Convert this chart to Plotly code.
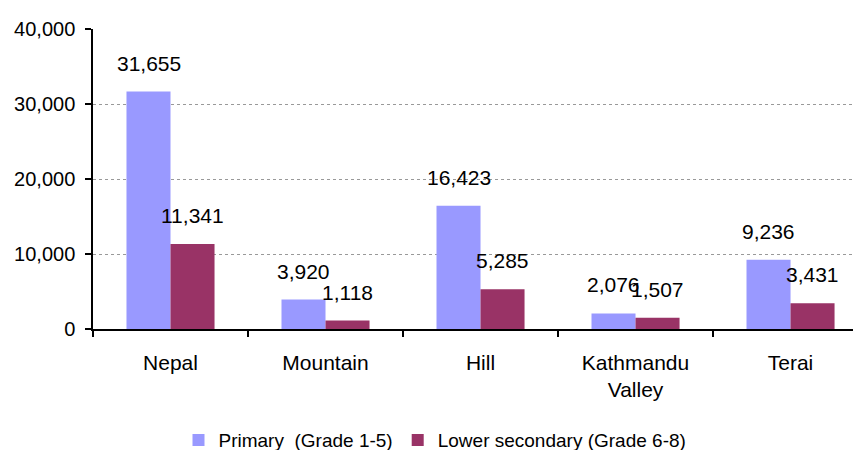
import plotly.graph_objects as go

categories = ["Nepal", "Mountain", "Hill", "Kathmandu Valley", "Terai"]
tick_labels = ["Nepal", "Mountain", "Hill", "Kathmandu<br>Valley", "Terai"]
primary = [31655, 3920, 16423, 2076, 9236]
lower_secondary = [11341, 1118, 5285, 1507, 3431]
series_names = ["Primary  (Grade 1-5)", "Lower secondary (Grade 6-8)"]
y_ticks = [0, 10000, 20000, 30000, 40000]

FONT = "Liberation Sans, Arial, sans-serif"

fig = go.Figure()
fig.add_trace(go.Bar(x=categories, y=primary, name=series_names[0],
                     marker=dict(color="#9999FF", line=dict(width=0))))
fig.add_trace(go.Bar(x=categories, y=lower_secondary, name=series_names[1],
                     marker=dict(color="#993366", line=dict(width=0))))

annotations = []
for vals, shift in ((primary, -22), (lower_secondary, 22)):
    for c, v in zip(categories, vals):
        annotations.append(dict(x=c, y=v, xref="x", yref="y", text=f"{v:,}",
                                showarrow=False, xshift=shift, yshift=15,
                                yanchor="bottom", font=dict(size=21, color="black", family=FONT)))

fig.update_layout(
    width=853, height=450,
    margin=dict(l=93, r=0, t=29, b=121, autoexpand=False),
    paper_bgcolor="white", plot_bgcolor="white",
    barmode="group", bargap=0.432, bargroupgap=0,
    font=dict(family=FONT, size=19, color="black"),
    annotations=annotations,
    showlegend=True,
    legend=dict(orientation="h", x=0.45, xanchor="center", y=-0.307, yanchor="top",
                font=dict(size=19, family=FONT), itemwidth=30, traceorder="normal",
                bgcolor="rgba(0,0,0,0)"),
    xaxis=dict(type="category", range=[-0.5, 4.403], tickmode="array",
               tickvals=categories, ticktext=tick_labels, automargin=False,
               showline=True, linecolor="black", linewidth=1.5,
               ticks="outside", tickson="boundaries", ticklen=6, tickwidth=1.5, tickcolor="black",
               showgrid=False, tickfont=dict(size=21), ticklabelstandoff=14),
    yaxis=dict(range=[0, 40000], tickvals=y_ticks, tickformat=",", automargin=False,
               showline=True, linecolor="black", linewidth=1.5,
               ticks="outside", ticklen=6, tickwidth=1.5, tickcolor="black",
               showgrid=True, gridcolor="#999999", griddash="dot", gridwidth=1,
               zeroline=False, tickfont=dict(size=20), ticklabelstandoff=6),
)

fig.write_html("out.html", config={"displayModeBar": False},
               post_script="document.body.style.margin='0';")
